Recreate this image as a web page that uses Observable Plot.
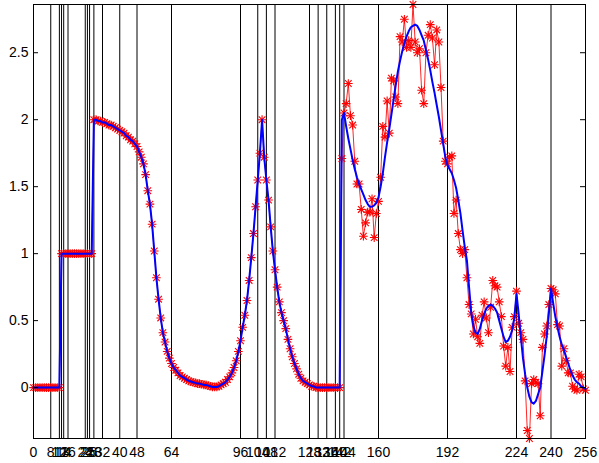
<!DOCTYPE html>
<html><head><meta charset="utf-8">
<script src="https://cdn.jsdelivr.net/npm/d3@7"></script>
<script src="https://cdn.jsdelivr.net/npm/@observablehq/plot@0.6"></script>
<style>html,body{margin:0;padding:0;background:#fff} svg{display:block}</style>
</head><body><div id="chart"></div>
<script>
// Breakpoints (vertical lines and x tick labels)
const breakpoints = [0, 8, 12, 13, 14, 16, 24, 25, 26, 28, 32, 40, 48, 64, 96, 104, 108, 112,
  128, 132, 136, 140, 142, 144, 160, 192, 224, 240, 256];
const yTicks = [0, 0.5, 1, 1.5, 2, 2.5];

// Noise-free part of the signal, x = 0..142 (shared by samples and fit)
const cleanPart = [
  0,0,0,0,0,0,0,0,0,0,0,0,0,
  1,1,1,1,1,1,1,1,1,1,1,1,1,1,1,
  2.00,2.00,1.99,1.99,1.98,1.98,1.97,1.96,1.96,1.95,1.94,1.93,1.92,1.91,1.90,1.88,1.87,1.85,1.84,1.82,1.80,
  1.76,1.72,1.67,1.59,1.47,1.37,1.22,1.02,0.82,0.66,0.52,0.41,0.34,0.27,0.22,0.18,0.15,0.13,0.11,0.09,
  0.08,0.07,0.06,0.05,0.045,0.04,0.035,0.03,0.03,0.025,0.02,0.02,0.015,0.01,0.005,0.005,0.005,0.01,0.02,0.03,
  0.04,0.06,0.08,0.11,0.15,0.20,0.27,
  0.35,0.45,0.54,0.65,0.80,0.97,1.15,1.35,1.55,1.75,2.00,
  1.72,1.55,1.40,1.20,1.02,0.88,0.75,0.64,0.56,0.50,0.44,0.36,0.29,0.23,0.18,0.14,0.10,0.07,0.05,0.04,0.03,0.02,0.01,0.01,
  0,0,0,0,0,0,0,0,0,0,0,0
];

// Noisy samples, x = 143..256
const noisyObserved = [
  1.71,2.05,2.12,2.27,2.03,1.96,1.69,1.52,1.52,1.33,
  1.13,1.23,1.31,1.31,1.41,1.12,1.30,1.39,1.57,1.95,
  1.87,2.14,1.90,2.31,2.29,2.17,2.12,2.62,2.58,2.75,
  2.54,2.59,2.54,2.86,2.58,2.50,2.53,2.22,2.12,2.50,
  2.63,2.71,2.61,2.41,2.67,2.58,2.24,1.84,1.69,1.67,
  1.72,1.73,1.30,1.40,1.15,1.03,1.00,1.03,0.82,0.62,
  0.55,0.40,0.51,0.38,0.33,0.54,0.64,0.52,0.41,0.60,
  0.80,0.76,0.75,0.64,0.53,0.31,0.16,0.30,0.12,0.45,
  0.53,0.72,0.48,0.41,0.36,0.05,-0.32,-0.38,0.03,0.06,
  0.04,0.03,-0.21,0.30,0.40,0.46,0.62,0.74,0.73,0.70,
  0.47,0.46,0.16,0.29,0.20,0.11,0.11,0.01,-0.01,-0.02,
  0.10,0.08,-0.01,-0.02
];

// Piecewise fit, x = 143..256
const fittedRight = [
  2.00,2.05,1.95,1.86,1.78,1.70,1.63,1.57,1.52,1.48,
  1.44,1.40,1.37,1.35,1.35,1.36,1.38,1.42,1.50,1.60,
  1.72,1.83,1.93,2.04,2.15,2.26,2.36,2.44,2.51,2.57,
  2.62,2.66,2.69,2.70,2.71,2.70,2.67,2.63,2.59,2.52,
  2.45,2.37,2.28,2.20,2.11,2.02,1.92,1.82,1.72,1.66,
  1.63,1.60,1.55,1.49,1.40,1.30,1.17,1.05,0.95,0.75,
  0.56,0.46,0.41,0.40,0.44,0.50,0.55,0.59,0.61,0.62,
  0.61,0.59,0.56,0.50,0.44,0.38,0.34,0.35,0.38,0.43,
  0.52,0.70,0.55,0.38,0.22,0.10,0.00,-0.07,-0.11,-0.12,
  -0.10,-0.05,0.00,0.12,0.24,0.38,0.55,0.74,0.63,0.53,
  0.45,0.38,0.32,0.28,0.23,0.18,0.13,0.09,0.06,0.04,
  0.03,0.01,0.00,-0.01
];

const observed = cleanPart.concat(noisyObserved);
const fitted = cleanPart.concat(fittedRight);
const rows = observed.map((v, i) => ({x: i, obs: v, fit: fitted[i]}));

const W = 599, H = 463, mL = 33, mR = 14, mT = 4, mB = 25;
const innerW = W - mL - mR;

const chart = Plot.plot({
  width: W, height: H,
  marginLeft: mL, marginRight: mR, marginTop: mT, marginBottom: mB,
  style: {fontFamily: "'Liberation Sans', Arial, Helvetica, sans-serif", fontSize: "14px", background: "white", color: "black"},
  x: {domain: [0, 256], label: null},
  y: {domain: [-0.38, 2.86], label: null},
  marks: [
    Plot.ruleX(breakpoints, {stroke: "black", strokeWidth: 1}),
    Plot.line(rows, {x: "x", y: "obs", stroke: "#ff0000", strokeWidth: 1, strokeOpacity: 0.85}),
    Plot.dot(rows, {x: "x", y: "obs", symbol: "plus", r: 2.9, stroke: "#ff0000", strokeWidth: 1.1}),
    Plot.dot(rows, {x: "x", y: "obs", symbol: "times", r: 3.1, stroke: "#ff0000", strokeWidth: 1.1}),
    Plot.line(rows, {x: "x", y: "fit", stroke: "#0000ff", strokeWidth: 2}),
    Plot.frame({stroke: "black"}),
    Plot.tickY(yTicks, {y: d => d, insetRight: innerW - 5, stroke: "black"}),
    Plot.tickY(yTicks, {y: d => d, insetLeft: innerW - 5, stroke: "black"}),
    Plot.axisY(yTicks, {anchor: "left", tickSize: 0, tickPadding: 5, label: null, tickFormat: d => String(d)}),
    Plot.axisX(breakpoints, {anchor: "bottom", tickSize: 0, tickPadding: 9, label: null, tickFormat: d => String(d)})
  ]
});
document.getElementById("chart").appendChild(chart);
</script>
</body></html>
